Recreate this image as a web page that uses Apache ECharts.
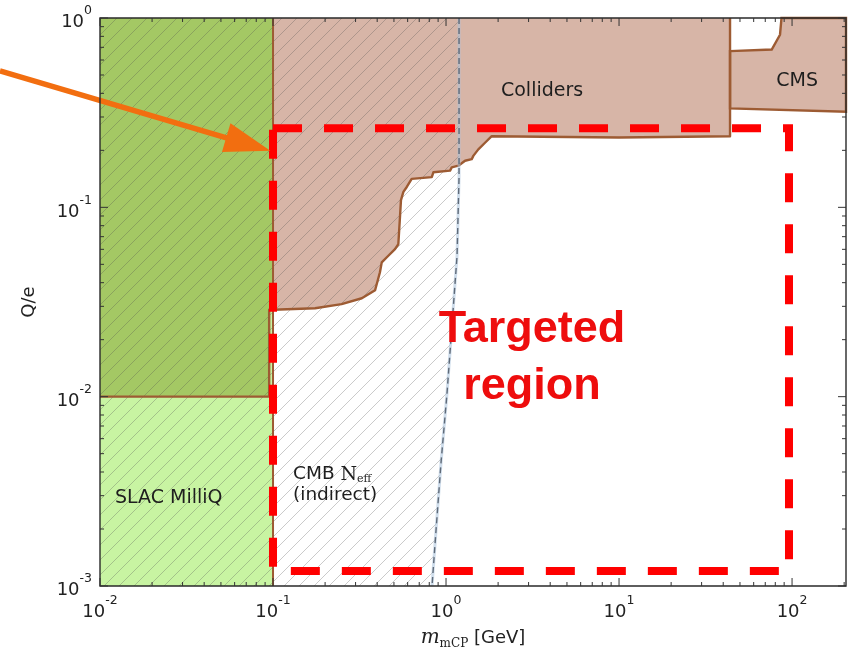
<!DOCTYPE html>
<html>
<head>
<meta charset="utf-8">
<script src="https://cdn.jsdelivr.net/npm/echarts@6/dist/echarts.min.js"></script>
<style>
  html, body { margin: 0; padding: 0; background: #fff; }
  #chart { width: 849px; height: 655px; }
</style>
</head>
<body>
<div id="chart"></div>
<script>
// ---- axis ranges and decade ticks ----
const massRange = [0.01, 205];          // GeV
const chargeRange = [0.001, 1];         // Q/e
const massTicks = [0.01, 0.1, 1, 10, 100];
const chargeTicks = [0.001, 0.01, 0.1, 1];

// ---- SLAC MilliQ exclusion ----
const slacMass = [0.01, 0.1];
const slacCharge = [0.001, 1];

// ---- collider exclusion, from the top-left corner along the lower edge ----
const colliderMass = [0.01, 0.01, 0.095, 0.095, 0.1, 0.175, 0.249, 0.326, 0.389, 0.415,
  0.425, 0.464, 0.507, 0.530, 0.542, 0.549, 0.567, 0.593, 0.633, 0.827,
  0.845, 1.055, 1.079, 1.178, 1.288, 1.408, 1.438, 1.537, 1.68, 1.837,
  10, 43.8, 43.8];
const colliderCharge = [1, 0.01, 0.01, 0.0288, 0.0288, 0.0293, 0.0308, 0.0331, 0.0365, 0.0454,
  0.0512, 0.0555, 0.0601, 0.0638, 0.0895, 0.1092, 0.1207, 0.1281, 0.1414, 0.1443,
  0.1532, 0.1563, 0.1626, 0.166, 0.1762, 0.1796, 0.187, 0.2024, 0.2193, 0.2375,
  0.234, 0.2375, 1];

// ---- CMS exclusion ----
const cmsMass = [43.8, 76.3, 85.2, 86.9, 205, 205, 43.8];
const cmsCharge = [0.668, 0.682, 0.816, 1, 1, 0.320, 0.333];

// ---- CMB N_eff bound (hatched to the left of this line) ----
const cmbMass = [1.189, 1.189, 1.158, 1.083, 1.013, 0.936, 0.875, 0.830];
const cmbCharge = [1, 0.1443, 0.0555, 0.0240, 0.0104, 0.00451, 0.00196, 0.001];

// ---- targeted region ----
const targetMass = [0.1, 96];
const targetCharge = [0.0012, 0.262];

// ---- pointer arrow (tail, tip) ----
const arrowMass = [0.00264, 0.0965];
const arrowCharge = [0.525, 0.199];

const FONT = '"DejaVu Sans", "Noto Sans", sans-serif';
const SERIF = '"DejaVu Serif", "Liberation Serif", serif';
const BROWN_FILL = '#d7b5a7';
const BROWN_LINE = '#9d5b33';
const GREEN_LIGHT = '#c8f4a2';
const GREEN_DARK = '#a4c864';

function pts(api, xs, ys) {
  return xs.map((x, i) => api.coord([x, ys[i]]));
}

// one diagonal "/" stroke per tile, repeated as a hatch pattern
function hatchTile() {
  const s = 15;
  const c = document.createElement('canvas');
  c.width = s; c.height = s;
  const g = c.getContext('2d');
  g.strokeStyle = 'rgba(80,80,80,0.30)';
  g.lineWidth = 1;
  g.beginPath();
  g.moveTo(-1, s + 1); g.lineTo(s + 1, -1);
  g.moveTo(-2, 2); g.lineTo(2, -2);
  g.moveTo(s - 2, s + 2); g.lineTo(s + 2, s - 2);
  g.stroke();
  return c;
}
const hatch = hatchTile();

function layer(z, build) {
  return {
    type: 'custom',
    coordinateSystem: 'cartesian2d',
    data: [[1, 0.1]],
    z: z,
    silent: true,
    clip: false,
    renderItem: function (params, api) { return build(api); }
  };
}

function powLabel(v) {
  const e = Math.log10(v);
  const r = Math.round(e);
  if (Math.abs(e - r) > 1e-6) return '';
  return '{b|10}{s|' + (r < 0 ? '-' + (-r) : r) + '}';
}

const tickRich = {
  b: { fontSize: 18, fontFamily: FONT, color: '#222', lineHeight: 27, verticalAlign: 'bottom' },
  s: { fontSize: 12.5, fontFamily: FONT, color: '#222', lineHeight: 11, verticalAlign: 'top' }
};

const series = [
  // collider fill
  layer(2, api => ({
    type: 'polygon',
    shape: { points: pts(api, colliderMass, colliderCharge) },
    style: { fill: BROWN_FILL }
  })),
  // SLAC fill
  layer(3, api => ({
    type: 'polygon',
    shape: { points: pts(api,
      [slacMass[0], slacMass[1], slacMass[1], slacMass[0]],
      [slacCharge[0], slacCharge[0], slacCharge[1], slacCharge[1]]) },
    style: { fill: GREEN_LIGHT }
  })),
  // region excluded by both SLAC and colliders
  layer(4, api => {
    const xs = [], ys = [];
    colliderMass.forEach((m, i) => { if (m <= slacMass[1]) { xs.push(m); ys.push(colliderCharge[i]); } });
    xs.push(slacMass[1]); ys.push(slacCharge[1]);
    return { type: 'polygon', shape: { points: pts(api, xs, ys) }, style: { fill: GREEN_DARK } };
  }),
  // CMS
  layer(5, api => ({
    type: 'polygon',
    shape: { points: pts(api, cmsMass, cmsCharge) },
    style: { fill: BROWN_FILL, stroke: BROWN_LINE, lineWidth: 2.4 }
  })),
  // CMB hatch
  layer(6, api => ({
    type: 'polygon',
    shape: { points: pts(api,
      [massRange[0], massRange[0]].concat(cmbMass),
      [chargeRange[0], chargeRange[1]].concat(cmbCharge)) },
    style: { fill: { image: hatch, repeat: 'repeat' } }
  })),
  // outlines
  layer(7, api => ({
    type: 'group',
    children: [
      {
        type: 'polyline',
        shape: { points: pts(api, colliderMass.slice(1), colliderCharge.slice(1)) },
        style: { stroke: BROWN_LINE, lineWidth: 2.4, fill: null, lineJoin: 'round' }
      },
      {
        type: 'polyline',
        shape: { points: pts(api, [slacMass[1], slacMass[1]], slacCharge) },
        style: { stroke: BROWN_LINE, lineWidth: 2, fill: null }
      }
    ]
  })),
  // CMB boundary
  layer(8, api => ({
    type: 'group',
    children: [
      {
        type: 'polyline',
        shape: { points: pts(api, cmbMass, cmbCharge) },
        style: { stroke: 'rgba(170,195,220,0.55)', lineWidth: 3, fill: null }
      },
      {
        type: 'polyline',
        shape: { points: pts(api, cmbMass, cmbCharge) },
        style: { stroke: '#5f6a78', lineWidth: 1.4, fill: null, lineDash: [6, 4] }
      }
    ]
  })),
  // targeted region
  layer(9, api => ({
    type: 'polyline',
    shape: { points: pts(api,
      [targetMass[0], targetMass[1], targetMass[1], targetMass[0], targetMass[0]],
      [targetCharge[1], targetCharge[1], targetCharge[0], targetCharge[0], targetCharge[1]]) },
    style: { stroke: '#ff0000', lineWidth: 8, fill: null, lineDash: [29, 22], lineCap: 'butt' }
  })),
  // text labels
  layer(10, api => {
    const t = (text, at, extra) => {
      const p = api.coord(at);
      return { type: 'text', x: p[0], y: p[1], style: Object.assign({
        text: text, fill: '#1e1e1e', font: '19px ' + FONT, align: 'center', verticalAlign: 'middle'
      }, extra || {}) };
    };
    return {
      type: 'group',
      children: [
        t('Colliders', [3.59, 0.412]),
        t('CMS', [107, 0.462]),
        t('SLAC MilliQ', [0.01221, 0.00293], { align: 'left' }),
        t('{a|CMB }{n|N}{e|eff}\n{a|(indirect)}', [0.1305, 0.00341], {
          align: 'left',
          rich: {
            a: { fontSize: 18.5, fontFamily: FONT, fill: '#1e1e1e', lineHeight: 21 },
            n: { fontSize: 19, fontFamily: SERIF, fill: '#1e1e1e', lineHeight: 21 },
            e: { fontSize: 11, fontFamily: SERIF, fill: '#1e1e1e', lineHeight: 13, verticalAlign: 'bottom' }
          }
        }),
        t('Targeted\nregion', [3.14, 0.0160], {
          font: 'bold 45px "Liberation Sans", Arial, sans-serif', fill: '#ee0d0d', lineHeight: 57
        })
      ]
    };
  }),
  // pointer arrow
  layer(11, api => {
    const a = api.coord([arrowMass[0], arrowCharge[0]]);
    const b = api.coord([arrowMass[1], arrowCharge[1]]);
    const dx = b[0] - a[0], dy = b[1] - a[1];
    const len = Math.sqrt(dx * dx + dy * dy);
    const ux = dx / len, uy = dy / len;
    const headLen = 46, headHalf = 15;
    const base = [b[0] - ux * headLen, b[1] - uy * headLen];
    return {
      type: 'group',
      children: [
        { type: 'line', shape: { x1: a[0], y1: a[1], x2: base[0] + ux * 2, y2: base[1] + uy * 2 },
          style: { stroke: '#f26e10', lineWidth: 5.5 } },
        { type: 'polygon', shape: { points: [b,
            [base[0] - uy * headHalf, base[1] + ux * headHalf],
            [base[0] + uy * headHalf, base[1] - ux * headHalf]] },
          style: { fill: '#f26e10' } }
      ]
    };
  }),
  // frame with decade and sub-decade ticks on all four sides
  layer(12, api => {
    const lo = api.coord([massRange[0], chargeRange[0]]);
    const hi = api.coord([massRange[1], chargeRange[1]]);
    const left = lo[0], bottom = lo[1], right = hi[0], top = hi[1];
    const kids = [{
      type: 'rect', shape: { x: left, y: top, width: right - left, height: bottom - top },
      style: { fill: null, stroke: '#2a2a2a', lineWidth: 1.4 }
    }];
    const tick = (x1, y1, x2, y2) => kids.push({ type: 'line', shape: { x1, y1, x2, y2 },
      style: { stroke: '#333', lineWidth: 1 } });
    const xMinor = [], yMinor = [];
    for (let e = -2; e <= 2; e++) for (let k = 2; k <= 9; k++) {
      const v = k * Math.pow(10, e); if (v < massRange[1]) xMinor.push(v);
    }
    for (let e = -3; e < 0; e++) for (let k = 2; k <= 9; k++) yMinor.push(k * Math.pow(10, e));
    massTicks.forEach(v => { const x = api.coord([v, 0.1])[0]; tick(x, bottom, x, bottom - 8); tick(x, top, x, top + 8); });
    xMinor.forEach(v => { const x = api.coord([v, 0.1])[0]; tick(x, bottom, x, bottom - 4); tick(x, top, x, top + 4); });
    chargeTicks.forEach(v => { const y = api.coord([1, v])[1]; tick(left, y, left + 8, y); tick(right, y, right - 8, y); });
    yMinor.forEach(v => { const y = api.coord([1, v])[1]; tick(left, y, left + 4, y); tick(right, y, right - 4, y); });
    return { type: 'group', children: kids };
  })
];

const chart = echarts.init(document.getElementById('chart'), null, { renderer: 'canvas' });
chart.setOption({
  animation: false,
  backgroundColor: '#fff',
  grid: { left: 100, right: 3, top: 18, bottom: 59, containLabel: false },
  xAxis: {
    type: 'log', logBase: 10, min: massRange[0], max: massRange[1], splitNumber: 4,
    axisLine: { show: false }, axisTick: { show: false }, splitLine: { show: false },
    axisLabel: { formatter: powLabel, rich: tickRich, margin: 8, showMaxLabel: true, hideOverlap: false },
    name: '{i|m}{sub|mCP}{t| [GeV]}',
    nameLocation: 'middle', nameGap: 40,
    nameTextStyle: {
      rich: {
        i: { fontSize: 20, fontStyle: 'italic', fontFamily: SERIF, color: '#222', lineHeight: 24 },
        sub: { fontSize: 12, fontFamily: SERIF, color: '#222', lineHeight: 12, verticalAlign: 'bottom' },
        t: { fontSize: 18, fontFamily: FONT, color: '#222', lineHeight: 24 }
      }
    }
  },
  yAxis: {
    type: 'log', logBase: 10, min: chargeRange[0], max: chargeRange[1], splitNumber: 3,
    axisLine: { show: false }, axisTick: { show: false }, splitLine: { show: false },
    axisLabel: { formatter: powLabel, rich: tickRich, margin: 8, hideOverlap: false },
    name: 'Q/e', nameLocation: 'middle', nameGap: 62,
    nameTextStyle: { fontSize: 18, fontFamily: FONT, color: '#222' }
  },
  series: series
});
</script>
</body>
</html>
